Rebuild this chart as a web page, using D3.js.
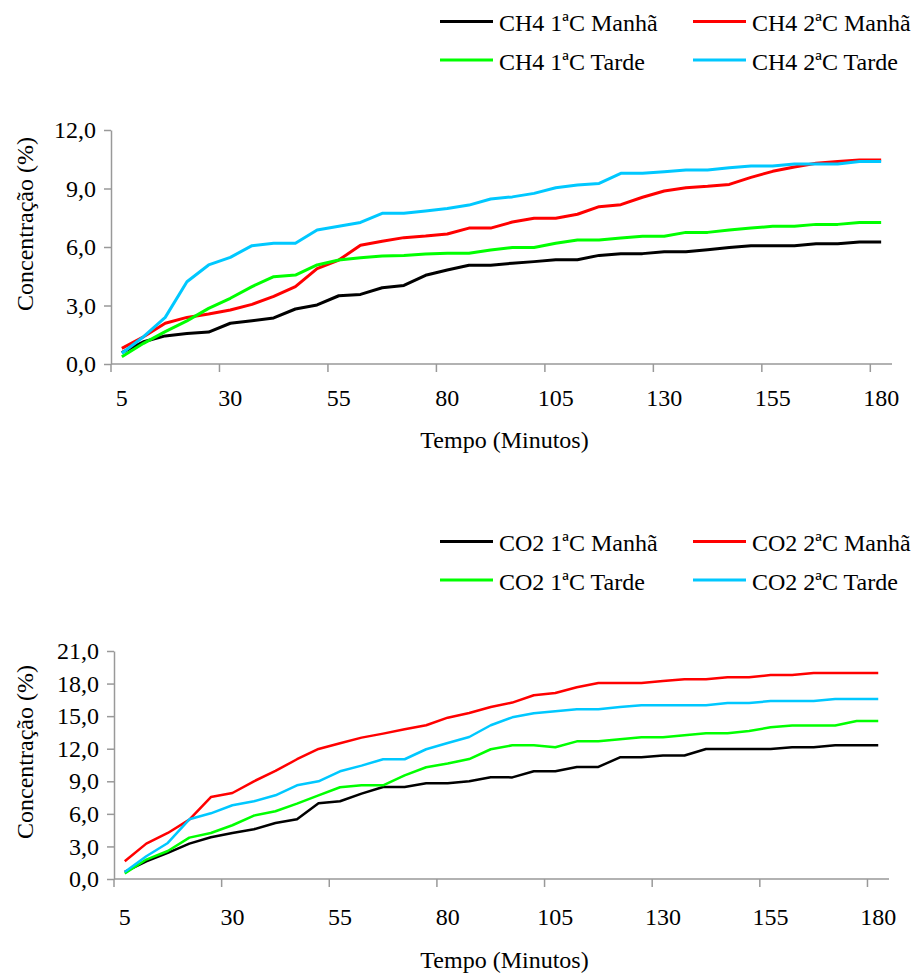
<!DOCTYPE html>
<html lang="pt">
<head>
<meta charset="UTF-8">
<title>Concentração CH4 e CO2</title>
<script src="https://cdn.jsdelivr.net/npm/d3@7"></script>
<style>
  body { margin: 0; background: #fff; }
  svg text { font-family: "Times New Roman", "Liberation Serif", Tinos, "DejaVu Serif", serif; fill: #000; }
</style>
</head>
<body>
<script>
// categorias (minutos)
var minutes = [5, 10, 15, 20, 25, 30, 35, 40, 45, 50, 55, 60, 65, 70, 75, 80, 85, 90,
               95, 100, 105, 110, 115, 120, 125, 130, 135, 140, 145, 150, 155, 160, 165, 170, 175, 180];
var xTickLabels = [5, 30, 55, 80, 105, 130, 155, 180];

// CH4 (%)
var ch4_1_manha = [0.58, 1.14, 1.44, 1.56, 1.64, 2.09, 2.22, 2.36, 2.82, 3.03, 3.50, 3.57, 3.91, 4.03, 4.55, 4.82, 5.06, 5.06,
                   5.17, 5.25, 5.35, 5.35, 5.57, 5.66, 5.66, 5.76, 5.76, 5.86, 5.97, 6.07, 6.07, 6.07, 6.17, 6.17, 6.26, 6.26];
var ch4_2_manha = [0.80, 1.40, 2.09, 2.39, 2.56, 2.77, 3.06, 3.47, 3.97, 4.89, 5.33, 6.09, 6.29, 6.48, 6.56, 6.67, 6.97, 6.97,
                   7.28, 7.47, 7.47, 7.68, 8.07, 8.17, 8.55, 8.87, 9.04, 9.11, 9.21, 9.57, 9.88, 10.10, 10.29, 10.38, 10.46, 10.46];
var ch4_1_tarde = [0.37, 1.06, 1.66, 2.21, 2.85, 3.37, 3.97, 4.48, 4.56, 5.08, 5.33, 5.45, 5.54, 5.57, 5.64, 5.68, 5.68, 5.85,
                   5.97, 5.97, 6.19, 6.36, 6.36, 6.46, 6.55, 6.55, 6.75, 6.75, 6.87, 6.97, 7.06, 7.06, 7.16, 7.16, 7.26, 7.26];
var ch4_2_tarde = [0.55, 1.40, 2.39, 4.22, 5.08, 5.47, 6.07, 6.19, 6.19, 6.87, 7.06, 7.26, 7.73, 7.73, 7.85, 7.97, 8.15, 8.46,
                   8.57, 8.75, 9.04, 9.18, 9.26, 9.78, 9.78, 9.86, 9.95, 9.95, 10.07, 10.15, 10.15, 10.26, 10.26, 10.26, 10.38, 10.38];

// CO2 (%)
var co2_1_manha = [0.65, 1.63, 2.40, 3.26, 3.84, 4.24, 4.58, 5.16, 5.50, 6.97, 7.16, 7.86, 8.47, 8.47, 8.81, 8.81, 9.00, 9.37,
                   9.36, 9.92, 9.92, 10.32, 10.32, 11.21, 11.21, 11.37, 11.37, 11.98, 11.98, 11.98, 11.98, 12.13, 12.13, 12.31, 12.31, 12.31];
var co2_2_manha = [1.63, 3.26, 4.24, 5.47, 7.55, 7.92, 9.00, 9.95, 11.03, 11.98, 12.50, 13.02, 13.39, 13.79, 14.16, 14.86, 15.29, 15.84,
                   16.25, 16.92, 17.13, 17.66, 18.05, 18.05, 18.05, 18.24, 18.39, 18.39, 18.58, 18.58, 18.79, 18.79, 18.97, 18.97, 18.97, 18.97];
var co2_1_tarde = [0.50, 1.79, 2.58, 3.81, 4.24, 4.95, 5.84, 6.24, 6.94, 7.71, 8.45, 8.63, 8.63, 9.55, 10.29, 10.63, 11.05, 11.95,
                   12.31, 12.31, 12.13, 12.68, 12.68, 12.87, 13.05, 13.05, 13.24, 13.42, 13.42, 13.63, 13.97, 14.13, 14.13, 14.13, 14.55, 14.55];
var co2_2_tarde = [0.65, 2.09, 3.32, 5.50, 6.05, 6.79, 7.16, 7.71, 8.63, 9.00, 9.92, 10.44, 11.03, 11.03, 11.95, 12.53, 13.08, 14.16,
                   14.89, 15.26, 15.45, 15.63, 15.63, 15.84, 16.00, 16.00, 16.00, 16.00, 16.21, 16.21, 16.39, 16.39, 16.39, 16.58, 16.58, 16.58];

var ch4Ticks = [0, 3, 6, 9, 12];
var co2Ticks = [0, 3, 6, 9, 12, 15, 18, 21];
var ch4Names = ["CH4 1ªC Manhã", "CH4 2ªC Manhã", "CH4 1ªC Tarde", "CH4 2ªC Tarde"];
var co2Names = ["CO2 1ªC Manhã", "CO2 2ªC Manhã", "CO2 1ªC Tarde", "CO2 2ªC Tarde"];
var colors = ["#000000", "#ff0000", "#00ff00", "#00c8ff"];

var svg = d3.select("body").append("svg").attr("width", 917).attr("height", 974);
svg.append("rect").attr("width", 917).attr("height", 974).attr("fill", "#fff");

var fmt = function (d) { return d3.format(".1f")(d).replace(".", ","); };

function drawChart(o) {
    var g = svg.append("g");
    var x = d3.scaleBand().domain(minutes).range([o.left, o.right]).padding(0);
    var y = d3.scaleLinear().domain([0, o.max]).range([o.bottom, o.top]);
    var bw = x.bandwidth();

    // eixo y
    var ya = g.append("g").attr("transform", "translate(" + o.left + ",0)")
        .call(d3.axisLeft(y).tickValues(o.ticks).tickFormat(fmt).tickSize(7).tickSizeOuter(0).tickPadding(8));
    ya.attr("font-family", null).attr("font-size", null);
    ya.select(".domain").attr("stroke", "#999").attr("stroke-width", 1.5);
    ya.selectAll(".tick line").attr("stroke", "#999").attr("stroke-width", 1.5);
    ya.selectAll("text").style("font-size", "24px");

    // eixo x
    g.append("line").attr("x1", o.left).attr("x2", o.right).attr("y1", o.bottom).attr("y2", o.bottom)
        .attr("stroke", "#999").attr("stroke-width", 1.5);
    g.selectAll(".xtick").data(xTickLabels).enter().append("line").attr("class", "xtick")
        .attr("x1", function (d) { return x(d); }).attr("x2", function (d) { return x(d); })
        .attr("y1", o.bottom).attr("y2", o.bottom + 8)
        .attr("stroke", "#999").attr("stroke-width", 1.5);
    g.selectAll(".xlab").data(xTickLabels).enter().append("text").attr("class", "xlab")
        .attr("x", function (d) { return x(d) + bw / 2; })
        .attr("y", o.bottom + o.labGap)
        .attr("text-anchor", "middle").style("font-size", "24px")
        .text(function (d) { return d; });

    // títulos
    g.append("text").attr("x", (o.left + o.right) / 2 + 3).attr("y", o.bottom + o.titleGap)
        .attr("text-anchor", "middle").style("font-size", "24px").text("Tempo (Minutos)");
    g.append("text").attr("transform", "translate(33," + o.yTitle + ") rotate(-90)")
        .attr("text-anchor", "middle").style("font-size", "24px").text("Concentração (%)");

    // linhas
    var line = d3.line()
        .x(function (d, i) { return x(minutes[i]) + bw / 2; })
        .y(function (d) { return y(d); });
    g.selectAll(".serie").data(o.series).enter().append("path").attr("class", "serie")
        .attr("d", function (d) { return line(d); })
        .attr("fill", "none")
        .attr("stroke", function (d, i) { return colors[i]; })
        .attr("stroke-width", o.lw)
        .attr("stroke-linejoin", "round");

    // legenda
    var leg = g.selectAll(".leg").data(o.names).enter().append("g").attr("class", "leg")
        .attr("transform", function (d, i) {
            return "translate(" + (i % 2 === 0 ? 440 : 693) + "," + (o.legTop + Math.floor(i / 2) * 38.5) + ")";
        });
    leg.append("line").attr("x1", 0).attr("x2", 53).attr("y1", 0).attr("y2", 0)
        .attr("stroke", function (d, i) { return colors[i]; }).attr("stroke-width", 3);
    leg.append("text").attr("x", 59).attr("y", 9.5).style("font-size", "24px").text(function (d) { return d; });
}

drawChart({
    left: 111, right: 892, top: 130, bottom: 364, max: 12, ticks: ch4Ticks,
    series: [ch4_1_manha, ch4_2_manha, ch4_1_tarde, ch4_2_tarde], names: ch4Names,
    labGap: 42, titleGap: 84, yTitle: 224, legTop: 21.5, lw: 3
});
drawChart({
    left: 114, right: 889, top: 651, bottom: 879, max: 21, ticks: co2Ticks,
    series: [co2_1_manha, co2_2_manha, co2_1_tarde, co2_2_tarde], names: co2Names,
    labGap: 46, titleGap: 89, yTitle: 752, legTop: 541.5, lw: 2.5
});
</script>
</body>
</html>
